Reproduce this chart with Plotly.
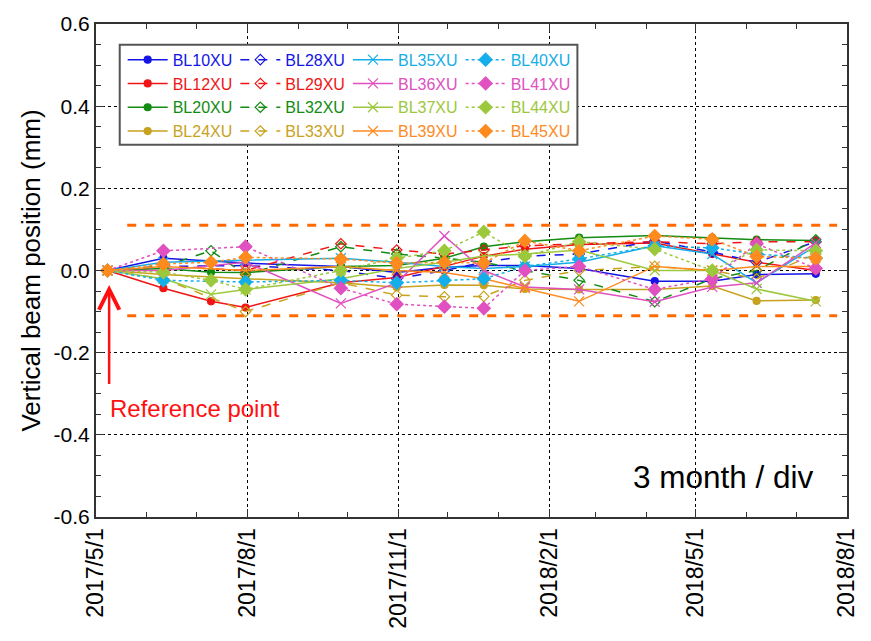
import plotly.graph_objects as go

dates = ["2017-05-08", "2017-06-11", "2017-07-10", "2017-07-31", "2017-09-27",
         "2017-10-31", "2017-11-29", "2017-12-23", "2018-01-17", "2018-02-19",
         "2018-04-06", "2018-05-11", "2018-06-07", "2018-07-13"]

BL10XU = [0, 0.03, None, 0.018, 0.01, -0.005, 0.008, 0.012, 0.012, 0.005, -0.026, -0.026, -0.01, -0.008]
BL12XU = [0, -0.043, -0.075, -0.09, -0.03, -0.017, 0.01, 0.035, 0.052, 0.063, 0.067, 0.04, 0.02, 0.0]
BL20XU = [0, 0.005, -0.004, -0.005, 0.01, 0.012, 0.03, 0.058, 0.07, 0.08, 0.085, 0.08, 0.075, 0.073]
BL24XU = [0, -0.01, None, -0.02, -0.03, -0.041, -0.035, -0.036, -0.045, -0.046, -0.046, -0.038, -0.074, -0.072]
BL28XU = [0, 0.01, None, 0.012, 0.0, -0.02, 0.0, 0.02, 0.035, 0.04, 0.072, 0.045, 0.02, 0.07]
BL29XU = [0, 0.01, None, 0.0, 0.065, 0.05, 0.04, 0.05, 0.06, 0.065, 0.07, 0.065, 0.07, 0.07]
BL32XU = [0, 0.01, 0.048, -0.01, 0.058, 0.04, 0.03, 0.02, 0.0, -0.024, -0.076, -0.02, 0.0, 0.075]
BL33XU = [0, -0.02, None, -0.1, -0.03, -0.06, -0.064, -0.063, -0.024, 0.0, 0.01, 0.0, -0.02, 0.04]
BL35XU = [0, 0.02, None, 0.025, 0.03, 0.02, 0.01, 0.005, 0.01, 0.02, 0.06, 0.04, -0.03, 0.06]
BL36XU = [0, 0.0, None, 0.02, -0.08, -0.03, 0.084, 0.0, -0.04, -0.046, -0.076, -0.04, -0.03, 0.067]
BL37XU = [0, -0.02, -0.058, -0.046, -0.02, 0.005, 0.02, 0.035, 0.04, 0.05, 0.0, 0.0, -0.045, -0.075]
BL39XU = [0, 0.01, None, 0.0, 0.01, 0.0, -0.005, -0.02, -0.043, -0.075, 0.01, 0.0, 0.01, 0.01]
BL40XU = [0, -0.024, None, -0.028, -0.024, -0.03, -0.024, -0.02, 0.01, 0.028, 0.06, 0.055, 0.04, 0.03]
BL41XU = [0, 0.048, None, 0.058, -0.043, -0.082, -0.088, -0.092, 0.0, 0.01, -0.046, -0.02, 0.065, 0.005]
BL44XU = [0, -0.004, -0.024, -0.046, 0.0, 0.03, 0.048, 0.094, 0.035, 0.07, 0.052, 0.0, 0.05, 0.048]
BL45XU = [0, 0.016, 0.02, 0.032, 0.028, 0.018, 0.02, 0.018, 0.072, 0.048, 0.084, 0.076, 0.034, 0.03]

limit_x = ["2017-05-20", "2018-07-26"]
limit_val = 0.11

tick_dates = ["2017-05-01", "2017-08-01", "2017-11-01", "2018-02-01", "2018-05-01", "2018-08-01"]
y_ticks = [-0.6, -0.4, -0.2, 0.0, 0.2, 0.4, 0.6]
y_tick_labels = ["-0.6", "-0.4", "-0.2", "0.0", "0.2", "0.4", "0.6"]

BLUE = "#1414E6"
RED = "#F01414"
GREEN = "#128C12"
OLIVE = "#C8A21E"
CYAN = "#14AEEA"
MAGENTA = "#E050C0"
YGREEN = "#9CC83C"
ORANGE = "#FF8A1E"

# (name, values, color, style, legend column)
series = [
    ("BL10XU", BL10XU, BLUE, "dot", "legend"), ("BL12XU", BL12XU, RED, "dot", "legend"),
    ("BL20XU", BL20XU, GREEN, "dot", "legend"), ("BL24XU", BL24XU, OLIVE, "dot", "legend"),
    ("BL28XU", BL28XU, BLUE, "open", "legend2"), ("BL29XU", BL29XU, RED, "open", "legend2"),
    ("BL32XU", BL32XU, GREEN, "open", "legend2"), ("BL33XU", BL33XU, OLIVE, "open", "legend2"),
    ("BL35XU", BL35XU, CYAN, "x", "legend3"), ("BL36XU", BL36XU, MAGENTA, "x", "legend3"),
    ("BL37XU", BL37XU, YGREEN, "x", "legend3"), ("BL39XU", BL39XU, ORANGE, "x", "legend3"),
    ("BL40XU", BL40XU, CYAN, "diamond", "legend4"), ("BL41XU", BL41XU, MAGENTA, "diamond", "legend4"),
    ("BL44XU", BL44XU, YGREEN, "diamond", "legend4"), ("BL45XU", BL45XU, ORANGE, "diamond", "legend4"),
]

styles = {
    "dot": dict(dash="solid", symbol="circle", size=7),
    "open": dict(dash="dash", symbol="diamond-open", size=8),
    "x": dict(dash="solid", symbol="x-thin-open", size=10),
    "diamond": dict(dash="dot", symbol="diamond", size=10),
}

fig = go.Figure()

# limit lines
for v in (limit_val, -limit_val):
    fig.add_trace(go.Scatter(x=limit_x, y=[v, v], mode="lines", showlegend=False,
                             line=dict(color="#FF6A00", width=3, dash="dash"), hoverinfo="skip"))

for name, vals, color, st, lg in series:
    s = styles[st]
    fig.add_trace(go.Scatter(
        x=dates, y=vals, mode="lines+markers", connectgaps=True,
        name=f"<span style='color:{color}'>{name}</span>", legend=lg,
        line=dict(color=color, width=1.5, dash=s["dash"]),
        marker=dict(symbol=s["symbol"], size=s["size"], color=color,
                    line=dict(color=color, width=1.2)),
    ))

# legend frame (opaque box)
fig.add_shape(type="rect", xref="paper", yref="paper", x0=0.0316, x1=0.641, y0=0.755, y1=0.958,
              fillcolor="white", line=dict(color="#555555", width=2), layer="above")

def legend_col(i):
    return dict(orientation="v", x=(123 + i * 114 - 96) / 760, y=0.962,
                xanchor="left", yanchor="top", itemwidth=40,
                bgcolor="rgba(0,0,0,0)", borderwidth=0,
                font=dict(family="Liberation Sans, Arial", size=16),
                tracegroupgap=0, traceorder="normal")

fig.update_layout(
    width=871, height=641,
    margin=dict(l=96, r=15, t=20, b=122),
    paper_bgcolor="white", plot_bgcolor="white",
    font=dict(family="Liberation Sans, Arial", color="black"),
    legend=legend_col(0), legend2=legend_col(1), legend3=legend_col(2), legend4=legend_col(3),
    xaxis=dict(
        type="date", range=["2017-05-01", "2018-08-01"],
        tickvals=tick_dates, tickformat="%Y/%-m/%-d", tickangle=-90,
        tickfont=dict(size=23), ticks="inside", ticklen=8, tickcolor="#333",
        showline=True, linecolor="#333", linewidth=2, mirror="allticks",
        showgrid=True, gridcolor="black", gridwidth=1, griddash="dot",
        minor=dict(dtick="M1", ticks="inside", ticklen=5, tickcolor="#333", showgrid=False),
        zeroline=False,
    ),
    yaxis=dict(
        range=[-0.6, 0.6], tickvals=y_ticks, ticktext=y_tick_labels,
        tickfont=dict(size=21), ticks="inside", ticklen=8, tickcolor="#333",
        showline=True, linecolor="#333", linewidth=2, mirror="allticks",
        showgrid=True, gridcolor="black", gridwidth=1, griddash="dot",
        minor=dict(dtick=0.05, ticks="inside", ticklen=5, tickcolor="#333", showgrid=False),
        zeroline=False,
        title=dict(text="Vertical beam position (mm)", font=dict(size=26), standoff=6),
    ),
)

# reference arrow
fig.add_annotation(x="2017-05-09", y=-0.035, ax="2017-05-09", ay=-0.28,
                   xref="x", yref="y", axref="x", ayref="y", text="",
                   showarrow=True, arrowhead=5, arrowsize=1.6, arrowwidth=2.5, arrowcolor="#FF1010")
fig.add_annotation(x="2017-05-08", y=-0.337, xref="x", yref="y", text="Reference point",
                   showarrow=False, xanchor="left", yanchor="middle",
                   font=dict(size=24, color="#FF1010"))
fig.add_annotation(x=0.959, y=0.082, xref="paper", yref="paper", text="3 month / div",
                   showarrow=False, xanchor="right", yanchor="middle",
                   font=dict(size=31.5, color="black"))

fig.write_html("out.html")
